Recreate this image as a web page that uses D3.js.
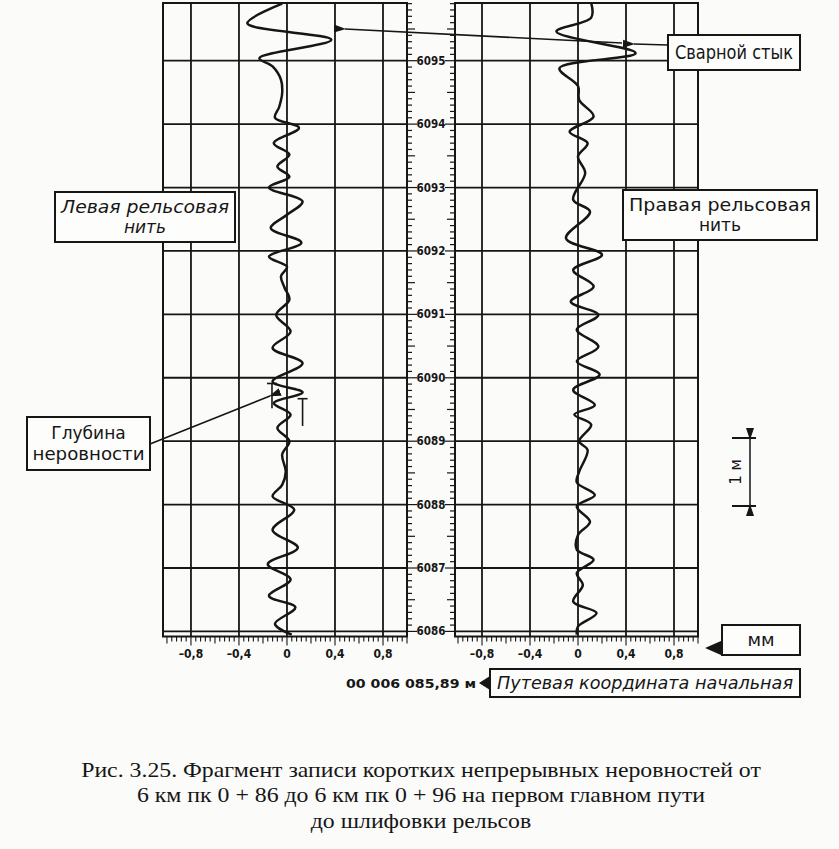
<!DOCTYPE html>
<html>
<head>
<meta charset="utf-8">
<script src="https://cdn.jsdelivr.net/npm/d3@7/dist/d3.min.js"></script>
<style>
  html, body { margin: 0; padding: 0; background: #fbfbfa; }
  svg { display: block; }
</style>
</head>
<body>
<div id="chart"></div>
<script>
// ── Data ────────────────────────────────────────────────────────────────────
const coordTicks = [6086, 6087, 6088, 6089, 6090, 6091, 6092, 6093, 6094, 6095];
const mmTicks = [-0.8, -0.4, 0, 0.4, 0.8];
const mmTickLabels = ["\u20130,8", "\u20130,4", "0", "0,4", "0,8"];

// left rail: путевая координата (м) и отклонение (мм)
const leftCoord = [6095.90, 6095.59, 6095.33, 6095.04, 6094.91, 6094.70, 6094.49, 6094.27, 6094.10,
  6093.94, 6093.70, 6093.52, 6093.33, 6093.17, 6093.00, 6092.78, 6092.57, 6092.36, 6092.13,
  6091.91, 6091.75, 6091.60, 6091.42, 6091.23, 6090.99, 6090.73, 6090.47, 6090.23, 6089.94,
  6089.77, 6089.60, 6089.42, 6089.21, 6089.00, 6088.79, 6088.52, 6088.31, 6088.13, 6087.92,
  6087.60, 6087.32, 6087.06, 6086.82, 6086.56, 6086.38, 6086.12, 6085.95];
const leftValue = [-0.04, -0.33, 0.37, -0.23, -0.12, -0.05, -0.04, -0.065, -0.10,
  0.10, -0.11, 0.02, -0.08, 0.02, -0.15, 0.13, 0.0, -0.135, 0.12,
  -0.15, 0.0, -0.05, -0.02, 0.02, -0.09, 0.03, -0.12, 0.13, -0.12,
  0.13, -0.11, 0.03, -0.08, 0.02, -0.04, -0.01, -0.04, -0.12, 0.06,
  -0.12, 0.09, -0.16, 0.03, -0.15, 0.07, -0.10, 0.04];

// right rail
const rightCoord = [6095.91, 6095.68, 6095.46, 6095.12, 6094.88, 6094.60, 6094.38, 6094.12,
  6093.88, 6093.70, 6093.49, 6093.23, 6092.81, 6092.62, 6092.20, 6091.94, 6091.70, 6091.44,
  6091.20, 6090.99, 6090.76, 6090.49, 6090.26, 6090.05, 6089.81, 6089.57, 6089.42, 6089.26,
  6089.00, 6088.86, 6088.52, 6088.35, 6088.15, 6087.97, 6087.73, 6087.52, 6087.29, 6087.13,
  6086.92, 6086.73, 6086.47, 6086.29, 6086.08, 6085.95];
const rightValue = [0.11, 0.11, -0.18, 0.48, -0.155, 0.0, 0.01, 0.13,
  -0.07, 0.08, 0.0, 0.06, -0.04, 0.10, -0.10, 0.20, -0.04, 0.13,
  -0.06, 0.17, -0.01, 0.17, -0.01, 0.18, -0.04, 0.14, -0.03, 0.11,
  0.01, 0.08, 0.01, -0.01, 0.14, -0.01, 0.10, 0.0, -0.01, 0.13,
  -0.01, 0.04, -0.04, 0.155, 0.0, -0.01];

const captionLines = [
  "Рис. 3.25. Фрагмент записи коротких непрерывных неровностей от",
  "6 км пк 0 + 86 до 6 км пк 0 + 96 на первом главном пути",
  "до шлифовки рельсов"
];

// ── Setup ───────────────────────────────────────────────────────────────────
const W = 839, H = 849;
const INK = "#161616";
const condensed = "'DejaVu Sans Condensed', 'Liberation Sans Narrow', 'DejaVu Sans', sans-serif";
const labelFont = "'DejaVu Sans', 'Noto Sans', sans-serif";

const svg = d3.select("#chart").append("svg").attr("width", W).attr("height", H);
svg.append("rect").attr("width", W).attr("height", H).attr("fill", "#fbfbfa");

const defs = svg.append("defs");
defs.append("marker")
  .attr("id", "arrow")
  .attr("viewBox", "0 -5 12 10")
  .attr("refX", 1).attr("refY", 0)
  .attr("markerWidth", 12).attr("markerHeight", 10)
  .attr("markerUnits", "userSpaceOnUse")
  .attr("orient", "auto-start-reverse")
  .append("path").attr("d", "M12,-4L0,0L12,4Z").attr("fill", INK);

const y = d3.scaleLinear().domain([6085.92, 6095.91]).range([636.5, 3]);
const xLeft = d3.scaleLinear().domain([-1.033, 1.0]).range([163, 407]);
const xRight = d3.scaleLinear().domain([-1.025, 1.0]).range([455, 698]);

const leftData = leftCoord.map((c, i) => ({ c, v: leftValue[i] }));
const rightData = rightCoord.map((c, i) => ({ c, v: rightValue[i] }));

// ── Panels ──────────────────────────────────────────────────────────────────
function drawPanel(xs, data) {
  const g = svg.append("g");
  const [x0, x1] = xs.range();
  const [yb, yt] = y.range();

  // frame
  g.append("rect")
    .attr("x", x0).attr("y", yt).attr("width", x1 - x0).attr("height", yb - yt)
    .attr("fill", "none").attr("stroke", INK).attr("stroke-width", 2);

  // grid
  g.selectAll("line.v").data(mmTicks).join("line")
    .attr("x1", d => xs(d)).attr("x2", d => xs(d))
    .attr("y1", yt).attr("y2", yb)
    .attr("stroke", INK).attr("stroke-width", 1.8);
  g.selectAll("line.h").data(coordTicks).join("line")
    .attr("x1", x0).attr("x2", x1)
    .attr("y1", d => y(d)).attr("y2", d => y(d))
    .attr("stroke", INK).attr("stroke-width", 1.8);

  // bottom mm ruler
  const minor = d3.range(-25, 26).map(i => i * 0.04).filter(v => v >= xs.domain()[0] && v <= 1.0001);
  g.selectAll("line.mt").data(minor).join("line")
    .attr("x1", d => xs(d)).attr("x2", d => xs(d))
    .attr("y1", yb).attr("y2", d => {
      const k = Math.round(d / 0.04);
      return yb + (k % 10 === 0 ? 9 : k % 5 === 0 ? 7 : 5);
    })
    .attr("stroke", INK).attr("stroke-width", 1.1);

  g.selectAll("text.xl").data(mmTicks).join("text")
    .attr("x", d => xs(d)).attr("y", yb + 21)
    .attr("text-anchor", "middle")
    .attr("font-family", condensed).attr("font-weight", "bold").attr("font-size", 12)
    .attr("fill", INK)
    .text((d, i) => mmTickLabels[i]);

  // trace
  const line = d3.line()
    .x(d => xs(d.v)).y(d => y(d.c))
    .curve(d3.curveCatmullRom.alpha(0.5));
  g.append("path").datum(data)
    .attr("d", line)
    .attr("fill", "none").attr("stroke", INK).attr("stroke-width", 2.5)
    .attr("stroke-linejoin", "round");
  return g;
}

drawPanel(xLeft, leftData);
drawPanel(xRight, rightData);

// ── Central coordinate ruler ────────────────────────────────────────────────
const rL = xLeft.range()[1], rR = xRight.range()[0];
const rulerTicks = d3.range(Math.ceil(6085.92 * 10), Math.floor(6095.91 * 10) + 1).map(v => v / 10);
const tickLen = d => {
  const k = Math.round(d * 10);
  return k % 10 === 0 ? 10 : k % 5 === 0 ? 8 : 5;
};
const ruler = svg.append("g");
ruler.selectAll("line.rl").data(rulerTicks).join("line")
  .attr("x1", rL).attr("x2", d => rL + tickLen(d))
  .attr("y1", d => y(d)).attr("y2", d => y(d))
  .attr("stroke", INK).attr("stroke-width", 1.2);
ruler.selectAll("line.rr").data(rulerTicks).join("line")
  .attr("x1", rR).attr("x2", d => rR - tickLen(d))
  .attr("y1", d => y(d)).attr("y2", d => y(d))
  .attr("stroke", INK).attr("stroke-width", 1.2);
ruler.selectAll("text").data(coordTicks).join("text")
  .attr("x", (rL + rR) / 2).attr("y", d => y(d) + 4)
  .attr("text-anchor", "middle")
  .attr("font-family", condensed).attr("font-weight", "bold").attr("font-size", 11.5)
  .attr("fill", INK)
  .text(d => d);

// ── Depth marker ("Глубина неровности") ─────────────────────────────────────
const depthMarks = [{ v: -0.125, c0: 6089.91, c1: 6089.52 }, { v: 0.13, c0: 6089.67, c1: 6089.24 }];
depthMarks.forEach(m => {
  svg.append("line")
    .attr("x1", xLeft(m.v)).attr("x2", xLeft(m.v)).attr("y1", y(m.c0)).attr("y2", y(m.c1))
    .attr("stroke", INK).attr("stroke-width", 1.6);
  svg.append("line")
    .attr("x1", xLeft(m.v) - 5).attr("x2", xLeft(m.v) + 5).attr("y1", y(m.c0)).attr("y2", y(m.c0))
    .attr("stroke", INK).attr("stroke-width", 1.6);
});

// ── Callout boxes ───────────────────────────────────────────────────────────
function box(x, yTop, w, h, lines, opts = {}) {
  const g = svg.append("g");
  g.append("rect").attr("x", x).attr("y", yTop).attr("width", w).attr("height", h)
    .attr("fill", "#fdfdfc").attr("stroke", INK).attr("stroke-width", 2);
  const size = opts.size || 18;
  const lh = opts.lh || size * 1.08;
  const start = yTop + h / 2 - (lines.length - 1) * lh / 2;
  lines.forEach((t, i) => {
    const tx = g.append("text")
      .attr("x", x + w / 2).attr("y", start + i * lh)
      .attr("dy", "0.35em")
      .attr("text-anchor", "middle")
      .attr("font-family", opts.font || labelFont)
      .attr("font-style", opts.italic ? "italic" : "normal")
      .attr("font-size", size)
      .attr("fill", INK)
      .text(t);
    if (opts.lengths && opts.lengths[i]) tx.attr("textLength", opts.lengths[i]).attr("lengthAdjust", "spacingAndGlyphs");
  });
  return g;
}

// weld joint arrows (drawn before boxes)
svg.append("line")
  .attr("x1", 622).attr("y1", 43).attr("x2", 345).attr("y2", 29)
  .attr("stroke", INK).attr("stroke-width", 1.6)
  .attr("marker-end", "url(#arrow)");
svg.append("line")
  .attr("x1", 668).attr("y1", 45).attr("x2", 634).attr("y2", 44)
  .attr("stroke", INK).attr("stroke-width", 1.6)
  .attr("marker-end", "url(#arrow)");
// depth arrow
svg.append("line")
  .attr("x1", 150).attr("y1", 444).attr("x2", 270).attr("y2", 396)
  .attr("stroke", INK).attr("stroke-width", 1.6)
  .attr("marker-end", "url(#arrow)");

box(668, 35, 132, 35, ["Сварной стык"], { size: 19, lengths: [118] });
box(55, 192, 180, 50, ["Левая  рельсовая", "нить"], { italic: true, size: 17, lh: 20, lengths: [168, 0] });
box(623, 190, 194, 50, ["Правая  рельсовая", "нить"], { italic: false, size: 17, lh: 20, lengths: [182, 0] });
box(27, 417, 123, 53, ["Глубина", "неровности"], { size: 17, lh: 21, lengths: [0, 112] });

// "1 м" scale bar
const sb = svg.append("g");
sb.append("line").attr("x1", 750).attr("x2", 750).attr("y1", 439).attr("y2", 505)
  .attr("stroke", INK).attr("stroke-width", 1.5)
  .attr("marker-start", "url(#arrow)").attr("marker-end", "url(#arrow)");
sb.append("line").attr("x1", 732).attr("x2", 756).attr("y1", 438).attr("y2", 438)
  .attr("stroke", INK).attr("stroke-width", 2);
sb.append("line").attr("x1", 732).attr("x2", 756).attr("y1", 506).attr("y2", 506)
  .attr("stroke", INK).attr("stroke-width", 2);
sb.append("text")
  .attr("transform", "translate(741,472) rotate(-90)")
  .attr("text-anchor", "middle")
  .attr("font-family", labelFont).attr("font-size", 15)
  .attr("fill", INK).text("1 м");

// "мм" box and bottom captions
box(722, 625, 78, 30, ["мм"], { size: 18 });
svg.append("path").attr("d", "M721,641 L705,648 L721,655 Z").attr("fill", INK);

box(490, 669, 310, 28, ["Путевая координата начальная"], { italic: true, size: 18, lengths: [296] });
svg.append("path").attr("d", "M490,676 L479,683 L490,690 Z").attr("fill", INK);
svg.append("text")
  .attr("x", 476).attr("y", 688)
  .attr("text-anchor", "end")
  .attr("font-family", condensed).attr("font-weight", "bold").attr("font-size", 12.5)
  .attr("fill", INK)
  .attr("textLength", 130).attr("lengthAdjust", "spacingAndGlyphs")
  .text("00 006 085,89 м");

// ── Figure caption (one common horizontal squeeze for all lines) ────────────
const capX = 421;
const capG = svg.append("g");
const capText = capG.selectAll("text.caption").data(captionLines).join("text")
  .attr("class", "caption")
  .attr("x", 0).attr("y", (d, i) => 777 + i * 25.5)
  .attr("text-anchor", "middle")
  .attr("font-family", "'Liberation Serif', 'DejaVu Serif', serif")
  .attr("font-size", 22)
  .attr("fill", INK)
  .text(d => d);
const firstLen = capText.node().getComputedTextLength();
const squeeze = 680 / firstLen;
capG.attr("transform", `translate(${capX},0) scale(${squeeze},1)`);
</script>
</body>
</html>
